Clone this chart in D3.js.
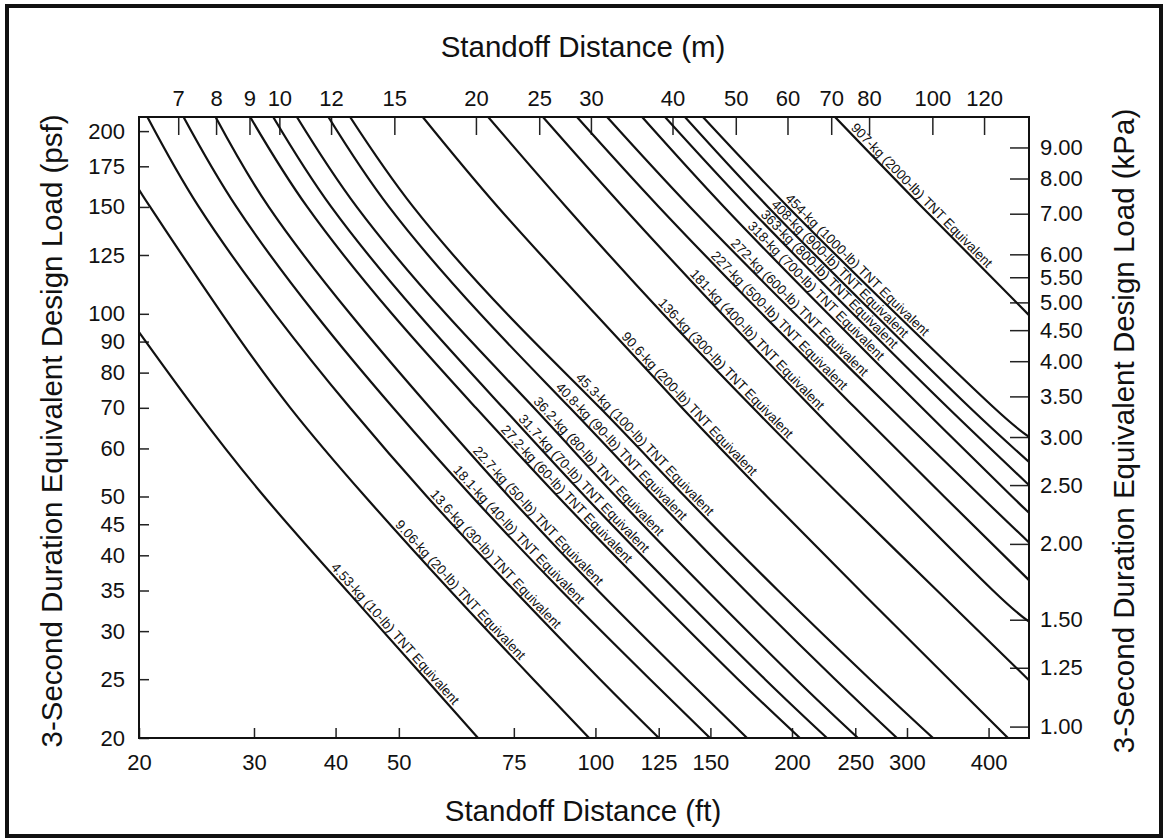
<!DOCTYPE html>
<html>
<head>
<meta charset="utf-8">
<script src="https://cdn.jsdelivr.net/npm/d3@7/dist/d3.min.js"></script>
<style>
	body { margin: 0; background: #fff; }
	text { font-family: "Liberation Sans", Arial, Helvetica, sans-serif; fill: #111; }
	.axis line { stroke: #222; stroke-width: 1.5; }
	.axis path { display: none; }
	.axis text { font-size: 22px; }
	.title { font-size: 29.5px; }
	.curve { fill: none; stroke: #111; stroke-width: 2.2; }
	.lbl { font-size: 13.5px; }
</style>
</head>
<body>
<div id="chart"></div>
<script>

// tick values
var ftTicks  = [20, 30, 40, 50, 75, 100, 125, 150, 200, 250, 300, 400];
var mTicks   = [7, 8, 9, 10, 12, 15, 20, 25, 30, 40, 50, 60, 70, 80, 100, 120];
var psfTicks = [20, 25, 30, 35, 40, 45, 50, 60, 70, 80, 90, 100, 125, 150, 175, 200];
var kpaTicks = [1, 1.25, 1.5, 2, 2.5, 3, 3.5, 4, 4.5, 5, 5.5, 6, 7, 8, 9];

// curves: [standoff ft, load psf]
var c10   = [[20, 93.3], [24.3, 70], [31.1, 50], [41.6, 35], [55.0, 25], [66.1, 20]];
var c20   = [[20, 161], [20.8, 150], [26.8, 100], [34.1, 70], [44.4, 50], [59.9, 35], [80.3, 25], [97.8, 20]];
var c30   = [[20.6, 211], [24.7, 150], [32.3, 100], [42.1, 70], [55.2, 50], [75.1, 35], [101.6, 25], [125.1, 20]];
var c40   = [[23.4, 211], [28.2, 150], [37.2, 100], [49.0, 70], [64.7, 50], [88.6, 35], [121.2, 25], [149.8, 20]];
var c50   = [[26.2, 211], [31.6, 150], [42.1, 100], [55.8, 70], [73.7, 50], [100.9, 35], [138.1, 25], [170.7, 20]];
var c60   = [[29.6, 211], [36.2, 150], [48.8, 100], [65.6, 70], [87.6, 50], [120.8, 35], [165.3, 25], [205.7, 20]];
var c70   = [[32.1, 211], [39.4, 150], [53.5, 100], [72.2, 70], [96.4, 50], [132.9, 35], [181.8, 25], [226.3, 20]];
var c80   = [[34.9, 211], [43.1, 150], [59.0, 100], [80.5, 70], [107.5, 50], [148.2, 35], [202.8, 25], [252.4, 20]];
var c90   = [[39.0, 211], [48.3, 150], [66.6, 100], [91.4, 70], [122.9, 50], [169.5, 35], [232.8, 25], [289.6, 20]];
var c100  = [[42.1, 211], [52.6, 150], [73.2, 100], [101.6, 70], [137.1, 50], [190.4, 35], [263.3, 25], [328.8, 20]];
var c200  = [[54.4, 211], [70.9, 150], [99.9, 100], [135.7, 70], [183.1, 50], [254.2, 35], [347.9, 25], [428.4, 20]];
var c300  = [[68.5, 211], [90.2, 150], [126.9, 100], [174.3, 70], [237.7, 50], [333.5, 35], [461.3, 24.9]];
var c400  = [[83.1, 211], [110.2, 150], [156.2, 100], [214.6, 70], [291.6, 50], [406.3, 35], [461.3, 31.1]];
var c500  = [[93.7, 211], [125.1, 150], [179.9, 100], [249.8, 70], [341.9, 50], [461.3, 36.4]];
var c600  = [[104.2, 211], [139.6, 150], [202.1, 100], [282.6, 70], [389.5, 50], [461.3, 42.0]];
var c700  = [[117.9, 211], [157.4, 150], [227.1, 100], [316.3, 70], [434.5, 50], [461.3, 47.1]];
var c800  = [[127.8, 211], [171.3, 150], [248.0, 100], [346.7, 70], [461.3, 52.2]];
var c900  = [[137.1, 211], [183.8, 150], [267.1, 100], [374.7, 70], [461.3, 57.0]];
var c1000 = [[146.1, 211], [197.2, 150], [288.6, 100], [407.8, 70], [461.3, 62.7]];
var c2000 = [[232.8, 211], [316.3, 150], [461.3, 99.5]];

var curves = [c10, c20, c30, c40, c50, c60, c70, c80, c90, c100,
              c200, c300, c400, c500, c600, c700, c800, c900, c1000, c2000];

var labels = [
	"4.53-kg (10-lb) TNT Equivalent", "9.06-kg (20-lb) TNT Equivalent",
	"13.6-kg (30-lb) TNT Equivalent", "18.1-kg (40-lb) TNT Equivalent",
	"22.7-kg (50-lb) TNT Equivalent", "27.2-kg (60-lb) TNT Equivalent",
	"31.7-kg (70-lb) TNT Equivalent", "36.2-kg (80-lb) TNT Equivalent",
	"40.8-kg (90-lb) TNT Equivalent", "45.3-kg (100-lb) TNT Equivalent",
	"90.6-kg (200-lb) TNT Equivalent", "136-kg (300-lb) TNT Equivalent",
	"181-kg (400-lb) TNT Equivalent", "227-kg (500-lb) TNT Equivalent",
	"272-kg (600-lb) TNT Equivalent", "318-kg (700-lb) TNT Equivalent",
	"363-kg (800-lb) TNT Equivalent", "408-kg (900-lb) TNT Equivalent",
	"454-kg (1000-lb) TNT Equivalent", "907-kg (2000-lb) TNT Equivalent"
];
// standoff (ft) where each label starts
var labelFt = [38.9, 48.8, 55.2, 59.9, 64.2, 70.9, 75.3, 79.4, 85.8, 92.3,
               108.2, 123.3, 138.1, 148.7, 159.5, 169.4, 177.3, 183.7, 193.0, 243.5];

var FT_PER_M = 3.2808, KPA_PER_PSF = 0.04788;

var W = 1168, H = 840;
var pL = 139, pR = 1029, pT = 117, pB = 738;

var svg = d3.select("#chart").append("svg")
	.attr("width", W).attr("height", H);

// outer border
svg.append("rect")
	.attr("x", 7).attr("y", 6).attr("width", 1154).attr("height", 830)
	.attr("fill", "none").attr("stroke", "#111").attr("stroke-width", 4);

var x = d3.scaleLog().domain([20, 461.3]).range([pL, pR]);
var y = d3.scaleLog().domain([20, 211]).range([pB, pT]);
var xm = d3.scaleLog().domain([20 / FT_PER_M, 461.3 / FT_PER_M]).range([pL, pR]);
var yk = d3.scaleLog().domain([20 * KPA_PER_PSF, 211 * KPA_PER_PSF]).range([pB, pT]);

svg.append("g").attr("class", "axis")
	.attr("transform", "translate(0," + pB + ")")
	.call(d3.axisBottom(x).tickValues(ftTicks).tickFormat(d3.format("d")).tickSize(-10).tickPadding(16));

svg.append("g").attr("class", "axis")
	.attr("transform", "translate(0," + pT + ")")
	.call(d3.axisTop(xm).tickValues(mTicks).tickFormat(d3.format("d")).tickSize(-18).tickPadding(11));

svg.append("g").attr("class", "axis")
	.attr("transform", "translate(" + pL + ",0)")
	.call(d3.axisLeft(y).tickValues(psfTicks).tickFormat(d3.format("d")).tickSize(-10).tickPadding(14));

svg.append("g").attr("class", "axis")
	.attr("transform", "translate(" + pR + ",0)")
	.call(d3.axisRight(yk).tickValues(kpaTicks).tickFormat(d3.format(".2f")).tickSize(-19).tickPadding(11));

// plot frame
svg.append("rect")
	.attr("x", pL).attr("y", pT).attr("width", pR - pL).attr("height", pB - pT)
	.attr("fill", "none").attr("stroke", "#111").attr("stroke-width", 2);

svg.append("clipPath").attr("id", "clip")
	.append("rect").attr("x", pL).attr("y", pT).attr("width", pR - pL).attr("height", pB - pT);

var line = d3.line()
	.x(function(d) { return x(d[0]); })
	.y(function(d) { return y(d[1]); })
	.curve(d3.curveNatural);

var g = svg.append("g");
curves.forEach(function(c, i) {
	var p = g.append("path")
		.attr("id", "curve" + i)
		.attr("class", "curve")
		.attr("clip-path", "url(#clip)")
		.attr("d", line(c));

	// find where the label starts along the path
	var node = p.node(), L = node.getTotalLength(), xs = x(labelFt[i]), off = 0;
	for (var s = 0; s <= L; s += 1) {
		if (node.getPointAtLength(s).x >= xs) { off = s; break; }
	}
	g.append("text").attr("class", "lbl").attr("dy", -3)
		.append("textPath")
		.attr("href", "#curve" + i)
		.attr("startOffset", off)
		.text(labels[i]);
});

// titles
svg.append("text").attr("class", "title").attr("text-anchor", "middle")
	.attr("x", 583).attr("y", 57).text("Standoff Distance (m)");
svg.append("text").attr("class", "title").attr("text-anchor", "middle")
	.attr("x", 583).attr("y", 821).text("Standoff Distance (ft)");
svg.append("text").attr("class", "title").attr("text-anchor", "middle")
	.attr("transform", "translate(62,431) rotate(-90)")
	.text("3-Second Duration Equivalent Design Load (psf)");
svg.append("text").attr("class", "title").attr("text-anchor", "middle")
	.attr("transform", "translate(1134,431) rotate(-90)")
	.text("3-Second Duration Equivalent Design Load (kPa)");

</script>
</body>
</html>
